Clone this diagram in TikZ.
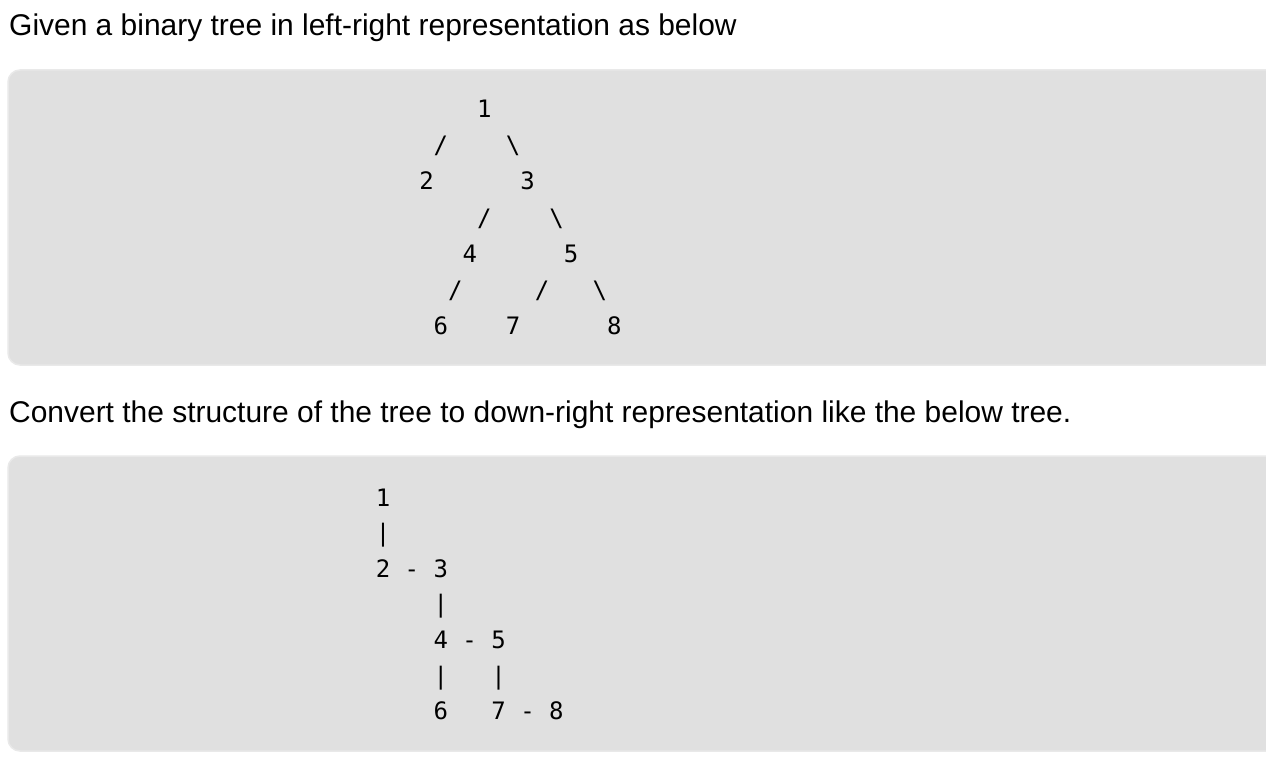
\documentclass[tikz,border=0pt]{standalone}
\usepackage{fontspec}
\setmainfont{Liberation Sans}
\newfontfamily\monofont{DejaVu Sans Mono}
\definecolor{boxfill}{HTML}{E0E0E0}
\definecolor{boxline}{HTML}{E9E9E9}
\begin{document}
\begin{tikzpicture}[x=1pt,y=-1pt,
  heading/.style={font=\fontsize{29.95}{34}\selectfont, inner sep=0pt, anchor=base west},
  panel/.style={fill=boxfill, draw=boxline, line width=1.5pt, rounded corners=12pt},
  glyph/.style={font=\monofont\fontsize{24}{28}\selectfont, inner sep=0pt, anchor=base}]
\useasboundingbox (0,0) rectangle (1266,770);
\fill[white] (0,0) rectangle (1266,770);

\node[heading] (h1) at (9,36) {Given a binary tree in left-right representation as below};
\draw[panel] (8,70) rectangle (1290,365);

\node[heading] (h2) at (9,422) {Convert the structure of the tree to down-right representation like the below tree.};
\draw[panel] (8,456) rectangle (1290,751);

% top tree: column x = 426.5 + c*14.45, baseline y = 118 + r*36
\def\ta{426.5}\def\cw{14.45}
\node[glyph] (a1) at ({\ta+4*\cw},118) {1};
\node[glyph] (a12) at ({\ta+1*\cw},154) {/};
\node[glyph] (a13) at ({\ta+6*\cw},154) {\textbackslash};
\node[glyph] (a2) at ({\ta+0*\cw},190) {2};
\node[glyph] (a3) at ({\ta+7*\cw},190) {3};
\node[glyph] (a34) at ({\ta+4*\cw},226) {/};
\node[glyph] (a35) at ({\ta+9*\cw},226) {\textbackslash};
\node[glyph] (a4) at ({\ta+3*\cw},262) {4};
\node[glyph] (a5) at ({\ta+10*\cw},262) {5};
\node[glyph] (a46) at ({\ta+2*\cw},298) {/};
\node[glyph] (a57) at ({\ta+8*\cw},298) {/};
\node[glyph] (a58) at ({\ta+12*\cw},298) {\textbackslash};
\node[glyph] (a6) at ({\ta+1*\cw},334) {6};
\node[glyph] (a7) at ({\ta+6*\cw},334) {7};
\node[glyph] (a8) at ({\ta+13*\cw},334) {8};

% bottom tree: column x = 383 + c*14.45, baseline y = 506 + r*35.6
\def\tb{383}
\node[glyph] (b1) at ({\tb+0*\cw},506) {1};
\node[glyph] (b12) at ({\tb+0*\cw},541.6) {|};
\node[glyph] (b2) at ({\tb+0*\cw},577.2) {2};
\node[glyph] (b23) at ({\tb+2*\cw},577.2) {-};
\node[glyph] (b3) at ({\tb+4*\cw},577.2) {3};
\node[glyph] (b34) at ({\tb+4*\cw},612.8) {|};
\node[glyph] (b4) at ({\tb+4*\cw},648.4) {4};
\node[glyph] (b45) at ({\tb+6*\cw},648.4) {-};
\node[glyph] (b5) at ({\tb+8*\cw},648.4) {5};
\node[glyph] (b46) at ({\tb+4*\cw},684) {|};
\node[glyph] (b57) at ({\tb+8*\cw},684) {|};
\node[glyph] (b6) at ({\tb+4*\cw},719.6) {6};
\node[glyph] (b7) at ({\tb+8*\cw},719.6) {7};
\node[glyph] (b78) at ({\tb+10*\cw},719.6) {-};
\node[glyph] (b8) at ({\tb+12*\cw},719.6) {8};
\end{tikzpicture}
\end{document}
